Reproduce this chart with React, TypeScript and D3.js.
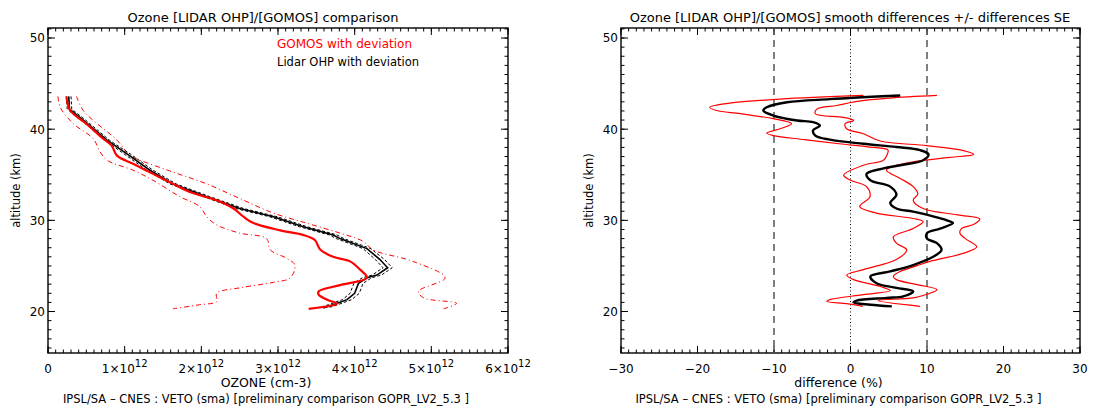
import React from 'react';
import * as d3 from 'd3';

// ---- left panel: ozone number density profiles (x in 1e12 cm-3) ----
const lidarAlt = [43.6, 42.2, 41.0, 38.8, 37.3, 35.5, 34.0, 32.6, 31.3, 30.4, 29.3, 28.4, 28.0, 26.9, 25.7, 24.8, 24.0, 23.7, 23.1, 22.0, 21.3, 20.75, 20.4];
const lidarO3 = [0.27, 0.28, 0.46, 0.77, 1.03, 1.33, 1.63, 2.07, 2.5, 2.94, 3.33, 3.72, 3.81, 4.16, 4.33, 4.43, 4.29, 4.16, 4.05, 4.0, 3.9, 3.72, 3.59];
const lidarDev = [0.03, 0.03, 0.03, 0.03, 0.04, 0.04, 0.04, 0.04, 0.05, 0.05, 0.05, 0.05, 0.05, 0.05, 0.06, 0.06, 0.06, 0.06, 0.06, 0.06, 0.06, 0.06, 0.06];

const gomosAlt = [43.6, 42.05, 40.6, 38.96, 38.2, 37.1, 36.2, 35.1, 34.0, 33.1, 32.2, 31.3, 30.4, 29.7, 28.9, 28.4, 27.85, 26.8, 26.0, 25.5, 24.6, 23.7, 22.9, 22.2, 21.85, 21.3, 20.86, 20.3];
const gomosO3 = [0.24, 0.29, 0.5, 0.72, 0.83, 0.9, 1.11, 1.37, 1.63, 1.85, 2.2, 2.42, 2.55, 2.68, 3.03, 3.33, 3.48, 3.55, 3.72, 3.94, 4.07, 4.16, 3.81, 3.53, 3.53, 3.64, 3.77, 3.4];

const gomosLowAlt = [43.6, 42.4, 40.6, 38.96, 37.5, 36.6, 35.5, 34.4, 32.6, 31.5, 30.4, 29.5, 28.6, 28.0, 26.76, 25.85, 25.1, 23.7, 23.2, 22.6, 22.0, 21.1, 20.75, 20.3];
const gomosLow = [0.13, 0.16, 0.33, 0.59, 0.68, 0.77, 1.11, 1.37, 1.72, 1.98, 2.07, 2.2, 2.5, 2.85, 2.9, 3.11, 3.22, 3.16, 2.94, 2.5, 2.2, 2.2, 1.98, 1.63];

const gomosHighAlt = [43.6, 42.05, 40.96, 38.8, 37.1, 36.6, 35.3, 34.0, 32.4, 30.8, 29.7, 28.6, 27.7, 26.76, 25.5, 23.7, 22.2, 21.5, 20.9, 20.3];
const gomosHigh = [0.37, 0.46, 0.59, 0.9, 1.07, 1.2, 1.63, 2.07, 2.5, 2.94, 3.37, 3.81, 4.11, 4.24, 4.76, 5.18, 4.83, 4.9, 5.33, 5.16];

// ---- right panel: smoothed relative difference (%) and +/- SE ----
const diffAlt = [43.7, 43.3, 42.95, 42.4, 42.05, 41.5, 40.96, 40.77, 40.4, 39.86, 39.3, 38.85, 38.4, 38.04, 37.7, 37.24, 36.6, 36.05, 35.7, 35.1, 34.4, 33.7, 32.8, 31.9, 31.3, 30.95, 30.0, 29.7, 29.1, 28.6, 28.0, 27.5, 26.76, 26.0, 25.1, 24.4, 23.85, 23.1, 22.6, 22.2, 21.66, 21.5, 21.2, 21.0, 20.75, 20.57];
const diffMean = [6.5, -2.7, -8.3, -10.95, -11.4, -10.1, -7.0, -4.9, -4.0, -4.9, -4.6, -2.7, 1.7, 6.0, 9.1, 10.2, 9.5, 6.5, 4.3, 2.1, 2.6, 5.2, 6.0, 5.2, 6.0, 8.2, 12.6, 13.4, 11.7, 10.0, 10.0, 11.3, 11.9, 10.8, 8.2, 5.2, 2.6, 3.4, 6.0, 8.2, 6.9, 4.7, 0.8, 0.4, 2.6, 5.4];

const lowerAlt = [43.7, 43.3, 42.85, 42.4, 42.05, 41.7, 41.15, 40.6, 40.05, 39.57, 39.3, 38.85, 38.4, 38.04, 37.7, 37.24, 36.6, 36.05, 34.95, 34.4, 33.7, 32.6, 31.5, 30.8, 30.2, 29.85, 29.1, 28.2, 27.5, 26.76, 25.7, 24.6, 24.0, 23.5, 22.75, 22.3, 21.85, 21.3, 21.1, 20.86, 20.57];
const lowerSE = [1.7, -9.2, -15.8, -18.4, -17.5, -14.4, -10.1, -7.7, -9.2, -10.95, -10.1, -6.0, -1.5, 2.5, 4.9, 4.8, 4.3, 1.7, -0.9, 0.0, 2.1, 2.55, 1.2, 3.4, 8.2, 9.5, 8.2, 5.6, 6.0, 7.35, 6.0, 1.7, -0.5, 0.4, 3.9, 5.2, 1.7, -2.7, -3.1, -0.5, 1.6];

const upperAlt = [43.7, 43.4, 43.0, 42.6, 42.2, 41.7, 41.3, 40.96, 40.6, 40.05, 39.5, 38.7, 38.2, 37.7, 37.24, 36.9, 36.4, 35.9, 35.5, 34.6, 33.7, 32.9, 32.2, 31.3, 30.6, 30.15, 29.6, 29.1, 28.6, 28.0, 27.1, 26.4, 25.5, 25.0, 24.4, 23.85, 23.5, 22.9, 22.4, 21.9, 21.5, 21.2, 20.57];
const upperSE = [11.3, 5.0, 0.5, -1.8, -4.4, -4.6, -0.9, 0.4, -0.7, -0.5, 1.7, 3.9, 10.0, 14.5, 16.1, 13.0, 8.0, 5.5, 4.7, 6.5, 8.2, 8.8, 8.2, 9.5, 14.0, 16.9, 16.2, 14.5, 14.3, 15.0, 16.5, 14.8, 10.4, 8.6, 6.5, 5.6, 6.0, 9.0, 11.3, 10.0, 8.2, 3.6, 9.1];

const altTicks = [20, 30, 40, 50];
const ozoneTicks = [0, 1, 2, 3, 4, 5, 6];
const diffTicks = [-30, -20, -10, 0, 10, 20, 30];
const refLines = [-10, 10];

const footer = 'IPSL/SA \u2013 CNES : VETO (sma) [preliminary comparison GOPR_LV2_5.3   ]';
const FONT = '"DejaVu Sans", sans-serif';

const W = 1106, H = 406;
const TOP = 28, BOTTOM = 353;

const y = d3.scaleLinear().domain([15.45, 51.1]).range([BOTTOM, TOP]);
const xL = d3.scaleLinear().domain([0, 6]).range([48, 508]);
const xR = d3.scaleLinear().domain([-30, 30]).range([621, 1080]);

function pts(xs: number[], ys: number[]): [number, number][] {
  return xs.map((v, i) => [v, ys[i]]);
}

function Frame({ x, xMajor, xMinorStep, xLabel }: any) {
  const [x0, x1] = x.range();
  const [d0, d1] = x.domain();
  const xMinor = d3.range(d0, d1 + 1e-9, xMinorStep);
  const yMinor = d3.range(16, 51.01, 1);
  return (
    <g stroke="#000" fill="none">
      <rect x={x0} y={TOP} width={x1 - x0} height={BOTTOM - TOP} strokeWidth={1.4} />
      {xMinor.map((t: number, i: number) => (
        <g key={'xm' + i} strokeWidth={1}>
          <line x1={x(t)} x2={x(t)} y1={BOTTOM} y2={BOTTOM - 3.5} />
          <line x1={x(t)} x2={x(t)} y1={TOP} y2={TOP + 3.5} />
        </g>
      ))}
      {xMajor.map((t: number, i: number) => (
        <g key={'xM' + i} strokeWidth={1}>
          <line x1={x(t)} x2={x(t)} y1={BOTTOM} y2={BOTTOM - 7} />
          <line x1={x(t)} x2={x(t)} y1={TOP} y2={TOP + 7} />
        </g>
      ))}
      {yMinor.map((t: number, i: number) => (
        <g key={'ym' + i} strokeWidth={1}>
          <line x1={x0} x2={x0 + 3.5} y1={y(t)} y2={y(t)} />
          <line x1={x1} x2={x1 - 3.5} y1={y(t)} y2={y(t)} />
        </g>
      ))}
      {altTicks.map((t, i) => (
        <g key={'yM' + i} strokeWidth={1}>
          <line x1={x0} x2={x0 + 7} y1={y(t)} y2={y(t)} />
          <line x1={x1} x2={x1 - 7} y1={y(t)} y2={y(t)} />
        </g>
      ))}
      <g stroke="none" fill="#000" fontFamily={FONT} fontSize={12}>
        {altTicks.map((t, i) => (
          <text key={'yl' + i} x={x0 - 3} y={y(t)} dy="0.36em" textAnchor="end">{t}</text>
        ))}
        <text transform={`translate(${x0 - 28},${(TOP + BOTTOM) / 2}) rotate(-90)`} textAnchor="middle" fontSize={11.5}>altitude (km)</text>
        <text x={(x0 + x1) / 2 - 12} y={387} textAnchor="middle" fontSize={12.5}>{xLabel}</text>
        <text x={(x0 + x1) / 2 - 12} y={403} textAnchor="middle" fontSize={11.5}>{footer}</text>
      </g>
    </g>
  );
}

export default function App() {
  const lineL = d3.line<[number, number]>().x(d => xL(d[0])).y(d => y(d[1]));
  const smoothL = d3.line<[number, number]>().x(d => xL(d[0])).y(d => y(d[1])).curve(d3.curveCatmullRom.alpha(0.5));
  const smoothR = d3.line<[number, number]>().x(d => xR(d[0])).y(d => y(d[1])).curve(d3.curveCatmullRom.alpha(0.5));

  const lidarLo = lidarO3.map((v, i) => v - lidarDev[i]);
  const lidarHi = lidarO3.map((v, i) => v + lidarDev[i]);

  return (
    <svg width={W} height={H} style={{ position: 'absolute', left: 0, top: 0, background: '#fff' }}>
      <rect width={W} height={H} fill="#fff" />

      {/* ---------- left panel ---------- */}
      <text x={263} y={22} textAnchor="middle" fontFamily={FONT} fontSize={13}>Ozone [LIDAR OHP]/[GOMOS] comparison</text>
      <Frame x={xL} xMajor={ozoneTicks} xMinorStep={0.1} xLabel="OZONE (cm-3)" />
      <g fontFamily={FONT} fontSize={12} textAnchor="middle">
        {ozoneTicks.map((t, i) => (
          t === 0
            ? <text key={i} x={xL(t)} y={373}>0</text>
            : <text key={i} x={xL(t)} y={373}>{t}×10<tspan dy={-6} fontSize={10}>12</tspan></text>
        ))}
      </g>
      <text x={277} y={48} fontFamily={FONT} fontSize={12} fill="#ff0000">GOMOS with deviation</text>
      <text x={277} y={66} fontFamily={FONT} fontSize={11.5} fill="#000">Lidar OHP with deviation</text>

      <g fill="none">
        <path d={smoothL(pts(gomosLow, gomosLowAlt)) || ''} stroke="#ff0000" strokeWidth={1} strokeDasharray="5,3,1,3" />
        <path d={smoothL(pts(gomosHigh, gomosHighAlt)) || ''} stroke="#ff0000" strokeWidth={1} strokeDasharray="5,3,1,3" />
        <path d={lineL(pts(lidarLo, lidarAlt)) || ''} stroke="#000" strokeWidth={1} strokeDasharray="3,2" />
        <path d={lineL(pts(lidarHi, lidarAlt)) || ''} stroke="#000" strokeWidth={1} strokeDasharray="3,2" />
        <path d={lineL(pts(lidarO3, lidarAlt)) || ''} stroke="#000" strokeWidth={1.6} />
        <path d={smoothL(pts(gomosO3, gomosAlt)) || ''} stroke="#ff0000" strokeWidth={2.2} />
      </g>

      {/* ---------- right panel ---------- */}
      <text x={850} y={22} textAnchor="middle" fontFamily={FONT} fontSize={13}>Ozone [LIDAR OHP]/[GOMOS] smooth differences +/- differences SE</text>
      <Frame x={xR} xMajor={diffTicks} xMinorStep={1} xLabel="difference (%)" />
      <g fontFamily={FONT} fontSize={12} textAnchor="middle">
        {diffTicks.map((t, i) => (
          <text key={i} x={xR(t)} y={373}>{t < 0 ? '\u2212' + Math.abs(t) : t}</text>
        ))}
      </g>
      <g fill="none">
        {refLines.map((r, i) => (
          <line key={i} x1={xR(r)} x2={xR(r)} y1={TOP} y2={BOTTOM} stroke="#555" strokeWidth={1.5} strokeDasharray="7,5" />
        ))}
        <line x1={xR(0)} x2={xR(0)} y1={TOP} y2={BOTTOM} stroke="#000" strokeWidth={1} strokeDasharray="1,2.5" />
        <path d={smoothR(pts(lowerSE, lowerAlt)) || ''} stroke="#ff0000" strokeWidth={1.2} />
        <path d={smoothR(pts(upperSE, upperAlt)) || ''} stroke="#ff0000" strokeWidth={1.2} />
        <path d={smoothR(pts(diffMean, diffAlt)) || ''} stroke="#000" strokeWidth={2.4} />
      </g>
    </svg>
  );
}
